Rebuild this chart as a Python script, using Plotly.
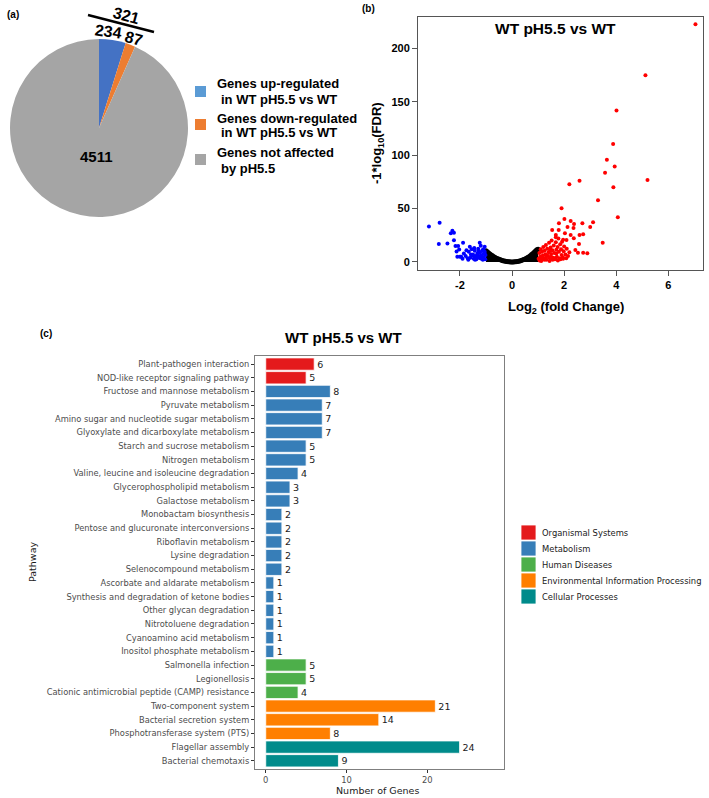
import plotly.graph_objects as go

W, H = 709, 798
def fx(px): return px / W
def fy(py): return 1 - py / H

# ---------------- (a) pie data ----------------
pie_labels = ["Genes up-regulated in WT pH5.5 vs WT",
              "Genes down-regulated in WT pH5.5 vs WT",
              "Genes not affected by pH5.5"]
pie_values = [234, 87, 4511]
pie_colors = ["#4472C4", "#ED7D31", "#A5A5A5"]
pie_legend_colors = ["#5B9BD5", "#ED7D31", "#A5A5A5"]
pie_legend_lines = [["Genes up-regulated", "in WT pH5.5 vs WT"],
                    ["Genes down-regulated", "in WT pH5.5 vs WT"],
                    ["Genes not affected", "by pH5.5"]]
pie_total_changed = 321

# ---------------- (b) volcano data ----------------
blue_x = [
    -3.19, -2.78, -2.81, -2.48, -2.35, -2.29, -2.23, -2.23, -1.88, -2.17,
    -2.07, -2.03, -2.13, -2.10, -2.00, -1.95, -1.62, -1.24, -1.20, -1.05,
    -1.85, -1.78, -1.70, -1.66, -1.60, -1.55, -1.50, -1.47, -1.43, -1.40,
    -1.37, -1.33, -1.30, -1.27, -1.23, -1.20, -1.17, -1.14, -1.11, -1.08,
    -1.05, -1.02, -1.75, -1.52, -1.45, -1.35, -1.28, -1.15, -1.10, -1.03,
    -1.90, -1.68, -1.58, -1.42, -1.32, -1.22, -1.12, -1.06]
blue_y = [
    33.1, 36.8, 16.9, 17.2, 26.9, 29.3, 27.4, 20.3, 18.1, 14.9,
    14.9, 11.8, 9.7, 5.0, 5.0, 5.0, 14.3, 18.1, 15.3, 14.3,
    8.0, 5.5, 3.5, 9.5, 4.0, 12.0, 7.0, 3.0, 10.5, 5.5,
    2.5, 8.0, 12.5, 4.5, 9.0, 6.0, 3.0, 11.0, 7.5, 4.0,
    9.5, 6.5, 11.0, 6.0, 13.0, 3.5, 10.0, 5.0, 12.0, 2.5,
    3.0, 2.0, 7.0, 2.0, 6.5, 3.5, 2.0, 8.5]

red_x = [
    7.04, 5.12, 4.01, 3.88, 3.64, 3.94, 3.57, 5.20, 2.59, 2.20,
    3.89, 3.30, 1.90, 4.06, 2.01, 2.25, 2.38, 2.70, 3.11, 3.00,
    1.80, 2.13, 2.36, 1.54, 1.79, 2.03, 2.25, 2.59, 2.73, 3.48,
    1.68, 1.68, 1.96, 2.09, 2.37, 2.57, 2.43, 2.53, 2.73, 2.89,
    1.02, 1.05, 1.08, 1.10, 1.12, 1.15, 1.18, 1.20, 1.22, 1.25,
    1.28, 1.30, 1.32, 1.35, 1.38, 1.40, 1.42, 1.45, 1.48, 1.50,
    1.52, 1.55, 1.58, 1.60, 1.62, 1.65, 1.68, 1.70, 1.72, 1.75,
    1.78, 1.80, 1.82, 1.85, 1.88, 1.90, 1.92, 1.95, 1.98, 2.00,
    2.05, 2.10, 2.15, 2.20, 1.06, 1.14, 1.24, 1.34, 1.44, 1.56,
    1.66, 1.76, 1.86, 1.96, 2.08, 1.12, 1.30, 1.50, 1.70, 1.46]
red_y = [
    222.5, 174.8, 141.7, 110.5, 95.8, 89.3, 83.6, 76.8, 76.1, 72.7,
    69.9, 57.8, 50.3, 41.8, 40.3, 38.4, 35.6, 36.2, 37.2, 32.8,
    36.2, 32.8, 31.8, 30.0, 30.0, 26.9, 25.3, 25.3, 25.9, 18.1,
    25.3, 23.1, 20.9, 20.6, 22.2, 16.9, 11.2, 8.7, 8.7, 8.1,
    3.0, 8.5, 5.0, 12.0, 2.5, 9.5, 6.0, 14.0, 3.5, 10.5,
    7.0, 16.0, 2.0, 12.5, 5.5, 9.0, 18.0, 3.5, 13.5, 7.5,
    20.0, 11.0, 4.0, 15.5, 8.5, 2.5, 18.5, 11.5, 5.0, 14.0,
    22.0, 9.5, 3.5, 16.5, 12.0, 6.5, 19.0, 4.5, 10.0, 14.5,
    7.0, 12.5, 5.5, 9.0, 1.5, 4.0, 2.0, 6.0, 1.0, 2.0,
    3.5, 1.5, 2.5, 3.0, 3.5, 1.0, 4.0, 5.0, 8.0, 10.5]

black_x = [
    -1.00, -0.95, -0.90, -0.85, -0.80, -0.75, -0.70, -0.65, -0.60, -0.55,
    -0.50, -0.45, -0.40, -0.35, -0.30, -0.25, -0.20, -0.15, -0.10, -0.05,
    0.00, 0.05, 0.10, 0.15, 0.20, 0.25, 0.30, 0.35, 0.40, 0.45,
    0.50, 0.55, 0.60, 0.65, 0.70, 0.75, 0.80, 0.85, 0.90, 0.95, 1.00]
black_y = [
    10.5, 9.5, 8.5, 7.5, 6.6, 5.8, 5.0, 4.3, 3.6, 3.0,
    2.5, 2.0, 1.6, 1.2, 0.9, 0.6, 0.4, 0.25, 0.15, 0.1,
    0.05, 0.1, 0.15, 0.3, 0.45, 0.7, 1.0, 1.4, 1.8, 2.3,
    2.9, 3.5, 4.2, 5.0, 5.9, 6.9, 8.0, 9.1, 10.3, 11.5, 12.0]

volcano_title = "WT pH5.5 vs WT"
volcano_xticks = [-2, 0, 2, 4, 6]
volcano_yticks = [0, 50, 100, 150, 200]

# ---------------- (c) KEGG bar data ----------------
pathways = [
    "Plant-pathogen interaction", "NOD-like receptor signaling pathway",
    "Fructose and mannose metabolism", "Pyruvate metabolism",
    "Amino sugar and nucleotide sugar metabolism",
    "Glyoxylate and dicarboxylate metabolism", "Starch and sucrose metabolism",
    "Nitrogen metabolism", "Valine, leucine and isoleucine degradation",
    "Glycerophospholipid metabolism", "Galactose metabolism",
    "Monobactam biosynthesis", "Pentose and glucuronate interconversions",
    "Riboflavin metabolism", "Lysine degradation", "Selenocompound metabolism",
    "Ascorbate and aldarate metabolism",
    "Synthesis and degradation of ketone bodies", "Other glycan degradation",
    "Nitrotoluene degradation", "Cyanoamino acid metabolism",
    "Inositol phosphate metabolism", "Salmonella infection", "Legionellosis",
    "Cationic antimicrobial peptide (CAMP) resistance", "Two-component system",
    "Bacterial secretion system", "Phosphotransferase system (PTS)",
    "Flagellar assembly", "Bacterial chemotaxis"]
gene_counts = [6, 5, 8, 7, 7, 7, 5, 5, 4, 3, 3, 2, 2, 2, 2, 2, 1, 1, 1, 1, 1, 1,
               5, 5, 4, 21, 14, 8, 24, 9]
pathway_class = (["Organismal Systems"] * 2 + ["Metabolism"] * 20 +
                 ["Human Diseases"] * 3 +
                 ["Environmental Information Processing"] * 3 +
                 ["Cellular Processes"] * 2)
classes = ["Organismal Systems", "Metabolism", "Human Diseases",
           "Environmental Information Processing", "Cellular Processes"]
class_colors = ["#E41A1C", "#377EB8", "#4DAF4A", "#FF7F00", "#008B8B"]
bar_xticks = [0, 10, 20]

ARIAL = "Liberation Sans, Arial, sans-serif"
DEJAVU = "DejaVu Sans, sans-serif"

fig = go.Figure()

# (a) pie
fig.add_trace(go.Pie(
    labels=pie_labels, values=pie_values, sort=False, direction="clockwise",
    rotation=0, marker=dict(colors=pie_colors, line=dict(width=0)),
    textinfo="none", hoverinfo="label+value", showlegend=False,
    domain=dict(x=[fx(10), fx(188)], y=[fy(217), fy(39)])))

# (b) volcano
fig.add_trace(go.Scatter(x=black_x, y=black_y, mode="lines+markers",
                         fill="tozeroy", fillcolor="black",
                         line=dict(color="black", width=1),
                         marker=dict(color="black", size=5),
                         xaxis="x2", yaxis="y2", showlegend=False))
fig.add_trace(go.Scatter(x=blue_x, y=blue_y, mode="markers",
                         marker=dict(color="#0000FF", size=4),
                         xaxis="x2", yaxis="y2", showlegend=False))
fig.add_trace(go.Scatter(x=red_x, y=red_y, mode="markers",
                         marker=dict(color="#FF0000", size=4),
                         xaxis="x2", yaxis="y2", showlegend=False))

# (c) bars
for cls, col in zip(classes, class_colors):
    ys = [p for p, c in zip(pathways, pathway_class) if c == cls]
    xs = [v for v, c in zip(gene_counts, pathway_class) if c == cls]
    fig.add_trace(go.Bar(
        x=xs, y=ys, orientation="h", name=cls, width=0.9,
        marker=dict(color=col, line=dict(color="white", width=0.8)),
        text=[str(v) for v in xs], textposition="outside",
        textfont=dict(family=DEJAVU, size=9.5, color="#1a1a1a"),
        constraintext="none", cliponaxis=False,
        xaxis="x3", yaxis="y3", showlegend=False))

ann = []
shapes = []

def text(px, py, t, size, bold=False, family=ARIAL, color="black",
         angle=0, xanchor="center"):
    ann.append(dict(x=fx(px), y=fy(py), xref="paper", yref="paper", text=t,
                    showarrow=False, textangle=angle, xanchor=xanchor,
                    yanchor="middle",
                    font=dict(family=family, size=size, color=color,
                              weight="bold" if bold else "normal")))

# panel labels
text(13, 14, "(a)", 10, bold=True)
text(368, 8, "(b)", 10, bold=True)
text(46, 333, "(c)", 10, bold=True)

# pie annotations
text(108, 31, str(pie_values[0]), 16, bold=True, angle=8)
text(134, 38, str(pie_values[1]), 16, bold=True, angle=15)
text(126, 15, str(pie_total_changed), 16, bold=True, angle=15)
text(96, 157, str(pie_values[2]), 15, bold=True)
shapes.append(dict(type="line", xref="paper", yref="paper",
                   x0=fx(88), y0=fy(15), x1=fx(154), y1=fy(32),
                   line=dict(color="black", width=2.5)))

# pie legend
sq_tops = [86, 119, 154]
line_ys = [(83, 99), (118, 133), (153, 168)]
for col, top, lines, ly in zip(pie_legend_colors, sq_tops, pie_legend_lines, line_ys):
    shapes.append(dict(type="rect", xref="paper", yref="paper",
                       x0=fx(195), x1=fx(206), y0=fy(top + 11), y1=fy(top),
                       fillcolor=col, line=dict(width=0)))
    text(215, ly[0], lines[0], 13, bold=True, xanchor="left")
    text(219, ly[1], lines[1], 13, bold=True, xanchor="left")

# volcano titles
text(555, 29, volcano_title, 15.5, bold=True)
text(566, 307, "Log<sub>2</sub> (fold Change)", 13, bold=True)
text(377, 143, "-1*log<sub>10</sub>(FDR)", 13, bold=True, angle=-90)

# bar chart titles
text(343, 338, "WT pH5.5 vs WT", 15, bold=True)
text(378, 790, "Number of Genes", 9.5, family=DEJAVU, color="#1a1a1a")
text(32, 562, "Pathway", 9.5, family=DEJAVU, color="#1a1a1a", angle=-90)

# bar legend
leg_centers = [532.5, 548.5, 564.5, 580.5, 596.5]
for cls, col, cy in zip(classes, class_colors, leg_centers):
    shapes.append(dict(type="rect", xref="paper", yref="paper",
                       x0=fx(521), x1=fx(536), y0=fy(cy + 7.5), y1=fy(cy - 7.5),
                       fillcolor=col, line=dict(color="white", width=0.8)))
    text(539.5, cy, cls, 8.4, family=DEJAVU, color="#1a1a1a", xanchor="left")

bold_tick = dict(family=ARIAL, size=11, color="black", weight="bold")

fig.update_layout(
    width=W, height=H, margin=dict(l=0, r=0, t=0, b=0),
    paper_bgcolor="white", plot_bgcolor="white",
    annotations=ann, shapes=shapes, bargap=0.1,
    xaxis2=dict(domain=[fx(418), fx(703)], range=[-3.61, 7.33], anchor="y2",
                showgrid=False, zeroline=False, showline=True, mirror=True,
                linecolor="#555555", linewidth=1, ticks="outside", ticklen=5,
                tickcolor="#555555", tickvals=volcano_xticks,
                ticktext=[f"<b>{v}</b>" for v in volcano_xticks],
                tickfont=bold_tick),
    yaxis2=dict(domain=[fy(270), fy(17)], range=[-7.5, 229.3], anchor="x2",
                showgrid=False, zeroline=False, showline=True, mirror=True,
                linecolor="#555555", linewidth=1, ticks="outside", ticklen=5,
                tickcolor="#555555", tickvals=volcano_yticks,
                ticktext=[f"<b>{v}</b>" for v in volcano_yticks],
                tickfont=bold_tick),
    xaxis3=dict(domain=[fx(255), fx(504)], range=[-1.33, 29.5], anchor="y3",
                showgrid=False, zeroline=False, showline=True, mirror=True,
                linecolor="#7F7F7F", linewidth=1.2, ticks="outside", ticklen=3,
                tickcolor="#333333", tickvals=bar_xticks,
                tickfont=dict(family=DEJAVU, size=8.4, color="#4D4D4D")),
    yaxis3=dict(domain=[fy(769), fy(356)], range=[29.6, -0.59], anchor="x3",
                type="category", categoryorder="array", categoryarray=pathways,
                showgrid=False, zeroline=False, showline=True, mirror=True,
                linecolor="#7F7F7F", linewidth=1.2, ticks="outside", ticklen=3,
                tickcolor="#333333",
                tickfont=dict(family=DEJAVU, size=8.3, color="#4D4D4D")),
)

fig.write_html("out.html",
               config={"displayModeBar": False},
               post_script="document.body.style.margin='0';"
                           "document.body.style.overflow='hidden';")
